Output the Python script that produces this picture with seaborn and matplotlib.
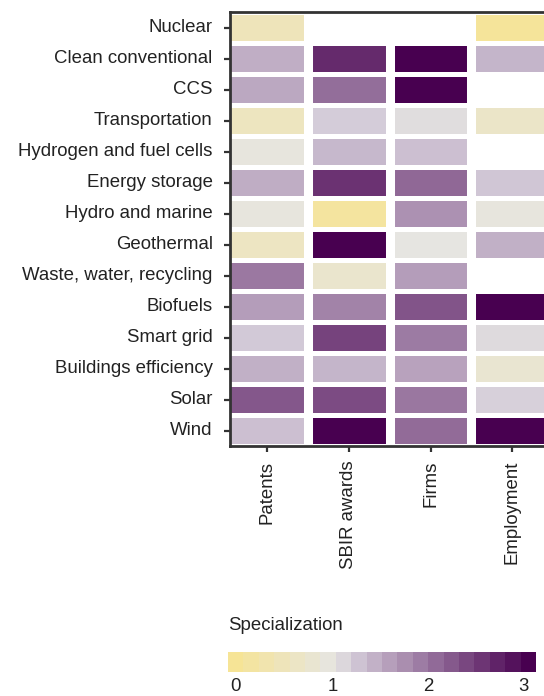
import numpy as np
import pandas as pd
import matplotlib
matplotlib.use("Agg")
import matplotlib.pyplot as plt
import seaborn as sns
from matplotlib.colors import LinearSegmentedColormap, Normalize
from matplotlib.cm import ScalarMappable

plt.rcParams['font.family'] = ['Liberation Sans', 'DejaVu Sans']

sectors = ["Nuclear", "Clean conventional", "CCS", "Transportation",
           "Hydrogen and fuel cells", "Energy storage", "Hydro and marine",
           "Geothermal", "Waste, water, recycling", "Biofuels", "Smart grid",
           "Buildings efficiency", "Solar", "Wind"]
measures = ["Patents", "SBIR awards", "Firms", "Employment"]

patents = [0.49, 1.45, 1.51, 0.56, 0.96, 1.46, 0.96, 0.59, 1.93, 1.60, 1.21, 1.43, 2.22, 1.30]
sbir = [np.nan, 2.62, 2.02, 1.19, 1.36, 2.55, 0.12, 3.0, 0.73, 1.83, 2.40, 1.39, 2.33, 3.0]
firms = [np.nan, 3.0, 3.0, 1.06, 1.30, 2.07, 1.71, 1.00, 1.60, 2.24, 1.90, 1.55, 1.94, 2.04]
employment = [0.05, 1.39, np.nan, 0.67, np.nan, 1.24, 0.96, 1.43, np.nan, 3.0, 1.08, 0.79, 1.15, 3.0]

legend_ticks = [0, 1, 2, 3]

df = pd.DataFrame({"Patents": patents, "SBIR awards": sbir,
                   "Firms": firms, "Employment": employment}, index=sectors)

anchors = [(0.0, "#f6e496"), (1/3, "#e6e5e1"), (0.4, "#d3cad8"), (1.0, "#480050")]
cmap = LinearSegmentedColormap.from_list("spec", anchors)
cmap_bins = LinearSegmentedColormap.from_list("spec20", anchors, N=20)

FS = 13.4
TXT = "#222222"
COLW = 81.7  # px per column

fig = plt.figure(figsize=(5.44, 6.96), dpi=100)
x0 = 0.045
ax = fig.add_axes([230/544, 250/696, (4 - x0) * COLW / 544, 434/696])

sns.heatmap(df, ax=ax, cmap=cmap, vmin=0, vmax=3, cbar=False,
            linewidths=2.2, linecolor="white")
for x in [1, 2, 3]:
    ax.axvline(x, color="white", lw=6.5)
ax.set_xlim(x0, 4)

for side in ["left", "bottom", "top"]:
    ax.spines[side].set_visible(True)
    ax.spines[side].set_color("#333333")
    ax.spines[side].set_linewidth(2)

ax.tick_params(axis="both", length=4, width=1.6, color="#333333",
               labelsize=FS, labelcolor=TXT)
ax.tick_params(axis="y", pad=8.5)
ax.tick_params(axis="x", pad=6.5)
ax.set_xticklabels(measures, rotation=90)
ax.set_yticklabels(sectors, rotation=0)
ax.set_xlabel("")
ax.set_ylabel("")

# legend bar
cax = fig.add_axes([228/544, 24/696, 308/544, 20/696])
sm = ScalarMappable(norm=Normalize(0, 3), cmap=cmap_bins)
cb = fig.colorbar(sm, cax=cax, orientation="horizontal")
cb.outline.set_visible(False)
# labels sit slightly inside the bar ends, as in the original legend
cb.set_ticks([0.07, 1.02, 1.95, 2.88])
cb.set_ticklabels([str(t) for t in legend_ticks])
cax.tick_params(length=0, pad=4.5, labelsize=FS, labelcolor=TXT)
fig.text(228/544, 1 - 625/696, "Specialization", ha="left", va="center",
         fontsize=FS, color=TXT)

fig.savefig("out.png", dpi=100)
